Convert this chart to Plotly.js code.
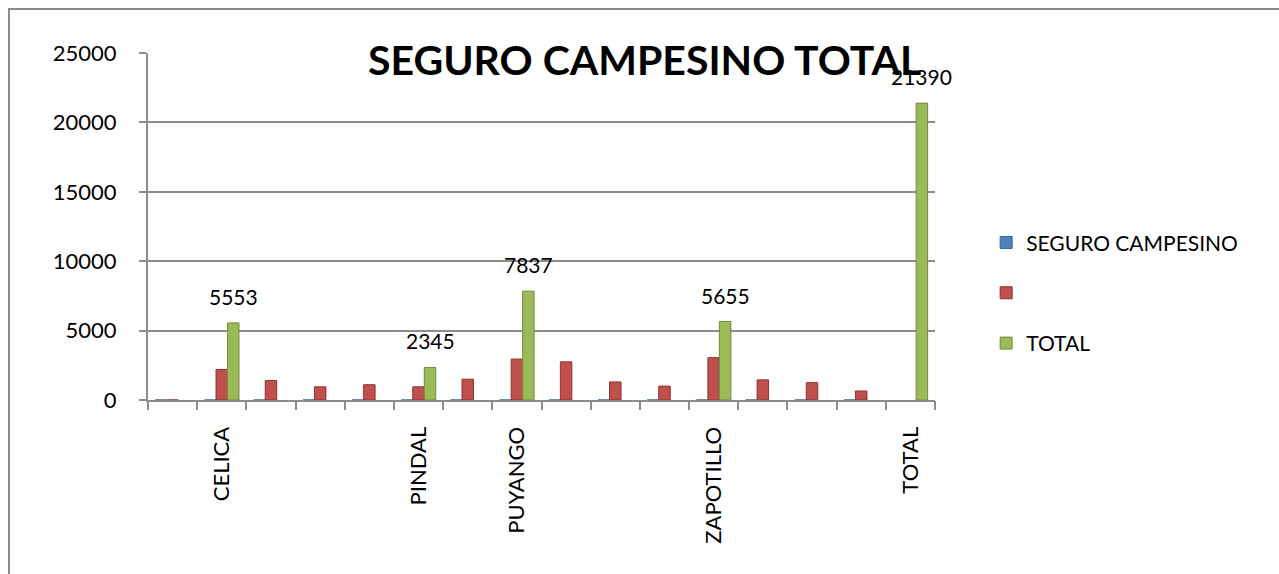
<!DOCTYPE html>
<html>
<head>
<meta charset="utf-8">
<script src="https://cdn.plot.ly/plotly-3.0.1.min.js"></script>
<style>html,body{margin:0;padding:0;background:#fff;}#chart{width:1279px;height:574px;}</style>
</head>
<body>
<div id="chart"></div>
<script>
// Category labels (blank ones are unlabeled rows in the source)
var categories = ["", "CELICA", "", "", "", "PINDAL", "", "PUYANGO", "", "", "", "ZAPOTILLO", "", "", "", "TOTAL"];
var seguroCampesino = [0, 0, 0, 0, 0, 0, 0, 0, 0, 0, 0, 0, 0, 0, 0, null];
var unnamedSeries = [0, 2200, 1400, 950, 1100, 950, 1500, 2950, 2750, 1300, 1000, 3050, 1450, 1250, 650, null];
var totalSeries = [null, 5553, null, null, null, 2345, null, 7837, null, null, null, 5655, null, null, null, 21390];
var yTickVals = [0, 5000, 10000, 15000, 20000, 25000];

var idx = categories.map(function (_, i) { return i; });
var bounds = [];
for (var b = 0; b <= categories.length; b++) bounds.push(b - 0.5);

var font = "Lato, 'Open Sans', 'DejaVu Sans', sans-serif";
var barGap = 0.3;
var nSeries = 3;
var greenOffset = (1 - barGap) / nSeries; // centre of 3rd bar relative to category centre

var traces = [
  {type: 'bar', name: 'SEGURO CAMPESINO', x: idx, y: seguroCampesino, legendgroup: 'a',
   marker: {color: '#4F81BD', line: {color: '#3A6699', width: 1}}},
  {type: 'bar', name: ' ', x: idx, y: unnamedSeries, legendgroup: 'b',
   marker: {color: '#C0504D', line: {color: '#8E3230', width: 1}}},
  {type: 'bar', name: 'TOTAL', x: idx, y: totalSeries, legendgroup: 'c',
   marker: {color: '#9BBB59', line: {color: '#728B3E', width: 1}}},
  {type: 'scatter', x: bounds, y: bounds.map(function () { return null; }), xaxis: 'x2',
   showlegend: false, hoverinfo: 'skip', mode: 'markers'}
];

var annotations = [];
totalSeries.forEach(function (v, i) {
  if (v === null) return;
  annotations.push({x: i + greenOffset, y: v, xref: 'x', yref: 'y', text: String(v), showarrow: false,
    yanchor: 'bottom', yshift: 12, font: {family: font, size: 21, color: '#000'}});
});

var layout = {
  width: 1279, height: 574,
  margin: {l: 148, r: 344, t: 53, b: 174},
  paper_bgcolor: '#fff', plot_bgcolor: '#fff',
  font: {family: font, color: '#000'},
  barmode: 'group', bargap: barGap, bargroupgap: 0,
  title: {text: '<b>SEGURO CAMPESINO TOTAL</b>', font: {family: font, size: 41, color: '#000'},
          x: 0.504, xanchor: 'center', y: 0.895, yanchor: 'middle', xref: 'container', yref: 'container'},
  xaxis: {range: [-0.5, categories.length - 0.5], tickmode: 'array', tickvals: idx, ticktext: categories,
          tickangle: -90, ticks: '', showgrid: false, zeroline: false, showline: true,
          linecolor: '#8c8c8c', linewidth: 2, tickfont: {family: font, size: 22, color: '#000'},
          ticklabelstandoff: 16, fixedrange: true},
  xaxis2: {overlaying: 'x', side: 'bottom', range: [-0.5, categories.length - 0.5], tickmode: 'array',
           tickvals: bounds, ticktext: bounds.map(function () { return ''; }), ticks: 'outside', ticklen: 9,
           tickwidth: 2, tickcolor: '#8c8c8c', showgrid: false, zeroline: false, showline: false},
  yaxis: {range: [0, 25000], tickmode: 'array', tickvals: yTickVals, ticktext: yTickVals.map(String),
          ticks: 'outside', ticklen: 7,
          tickwidth: 2, tickcolor: '#8c8c8c', showline: true, linecolor: '#8c8c8c', linewidth: 2,
          showgrid: true, gridcolor: '#8c8c8c', gridwidth: 2, zeroline: false,
          tickfont: {family: font, size: 22, color: '#000'}, ticklabelstandoff: 18},
  legend: {x: 1.065, xanchor: 'left', y: 0.512, yanchor: 'top', tracegroupgap: 20,
           font: {family: font, size: 21, color: '#000'}, bgcolor: 'rgba(0,0,0,0)'},
  annotations: annotations,
  shapes: [{type: 'rect', xref: 'paper', yref: 'paper', x0: -0.1766, x1: 1.46, y0: -0.56, y1: 1.1268,
            line: {color: '#8c8c8c', width: 2}, fillcolor: 'rgba(0,0,0,0)', layer: 'below'}],
  showlegend: true
};

Plotly.newPlot('chart', traces, layout, {displayModeBar: false, staticPlot: true});
</script>
</body>
</html>
